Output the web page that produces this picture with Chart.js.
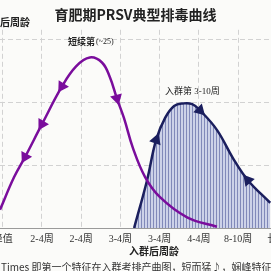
<!DOCTYPE html>
<html>
<head>
<meta charset="utf-8">
<script src="https://cdn.jsdelivr.net/npm/chart.js@4"></script>
<style>
  html, body { margin: 0; padding: 0; background: #fbfbf9; overflow: hidden; }
  #caja { width: 271px; height: 271px; position: relative; }
</style>
</head>
<body>
<div id="caja"><canvas id="grafica"></canvas></div>
<script>
// Etiquetas del eje X (semanas tras la entrada)
const etiquetasX = ['峰值', '2-4周', '2-4周', '3-4周', '3-4周', '4-4周', '8-10周', '长期'];

// Curva morada (excreción corta)
const moradaX = [-0.07, 0.29, 0.57, 1.0, 1.51, 1.87, 2.22, 2.53, 2.73, 2.91, 3.09, 3.32, 3.63, 4.01, 4.70, 5.46];
const moradaY = [0.29, 0.81, 1.13, 1.65, 2.25, 2.57, 2.71, 2.63, 2.40, 2.06, 1.75, 1.27, 0.81, 0.49, 0.17, 0.02];
const flechasMorada = [2, 3, 4, 9];
const giroMorada = [0, 0, 208, 210, 212, 0, 0, 0, 0, 165, 0, 0, 0, 0, 0, 0];

// Curva azul (entrada semanas 3-10)
const azulX = [3.35, 3.68, 3.91, 4.14, 4.37, 4.60, 4.83, 5.03, 5.46, 5.88, 6.25, 6.82];
const azulY = [0.00, 0.76, 1.40, 1.75, 1.94, 1.98, 1.97, 1.87, 1.56, 1.10, 0.76, 0.40];
const flechasAzul = [2, 7, 10];
const giroAzul = [0, 0, 20, 0, 0, 0, 0, 135, 0, 0, -40, 0];

// Patrón de rayas verticales para el relleno
const pc = document.createElement('canvas');
pc.width = 3; pc.height = 4;
const pctx = pc.getContext('2d');
pctx.fillStyle = '#cdd2e8';
pctx.fillRect(0, 0, 3, 4);
pctx.fillStyle = '#8189b9';
pctx.fillRect(0, 0, 1, 4);

const textos = {
  id: 'textos',
  afterDraw(chart) {
    const { ctx, scales: { x } } = chart;
    ctx.save();
    ctx.fillStyle = '#333';
    ctx.textAlign = 'center';
    ctx.textBaseline = 'middle';
    ctx.font = '10px "Liberation Serif", "Noto Sans CJK SC"';
    etiquetasX.forEach((t, i) => ctx.fillText(t, x.getPixelForValue(i), 239));
    ctx.font = 'bold 10px "Noto Sans CJK SC"';
    ctx.fillStyle = '#222';
    ctx.fillText('入群后周龄', 154, 251);
    ctx.textAlign = 'left';
    ctx.fillText('后周龄', 0, 22);
    ctx.font = 'bold 9px "Noto Sans CJK SC"';
    ctx.fillText('短续第', 68, 42);
    ctx.font = '8px "Liberation Serif"';
    ctx.fillText('(~25)', 96, 42);
    ctx.font = '9px "Liberation Serif", "Noto Sans CJK SC"';
    ctx.fillText('入群第 3-10周', 165, 92);
    ctx.font = '10px "Noto Sans CJK SC"';
    ctx.fillStyle = '#333';
    ctx.fillText('Times 即第一个特征在入群考排产曲图，短而猛♪，娴峰特征，双', 1, 267);
    ctx.restore();
  }
};

const ctx = document.getElementById('grafica').getContext('2d');
const myChart = new Chart(ctx, {
  type: 'line',
  data: {
    datasets: [
      {
        label: '短续第',
        data: moradaX.map((v, i) => ({ x: v, y: moradaY[i] })),
        borderColor: '#7a0d9c',
        borderWidth: 2.5,
        tension: 0.4,
        fill: false,
        pointStyle: 'triangle',
        pointRadius: c => flechasMorada.includes(c.dataIndex) ? 4.5 : 0,
        rotation: giroMorada,
        pointBackgroundColor: '#7a0d9c',
        pointBorderColor: '#7a0d9c'
      },
      {
        label: '入群第 3-10周',
        data: azulX.map((v, i) => ({ x: v, y: azulY[i] })),
        borderColor: '#1b1f5e',
        borderWidth: 2.5,
        tension: 0.4,
        fill: 'origin',
        backgroundColor: ctx.createPattern(pc, 'repeat'),
        pointStyle: 'triangle',
        pointRadius: c => flechasAzul.includes(c.dataIndex) ? 4.5 : 0,
        rotation: giroAzul,
        pointBackgroundColor: '#1b1f5e',
        pointBorderColor: '#1b1f5e'
      }
    ]
  },
  options: {
    responsive: true,
    maintainAspectRatio: false,
    animation: false,
    layout: { padding: { left: 0, right: 0, top: 0, bottom: 43 } },
    plugins: {
      legend: { display: false },
      tooltip: { enabled: false },
      title: {
        display: true,
        text: '育肥期PRSV典型排毒曲线',
        color: '#222',
        font: { size: 14, weight: 'bold', family: '"Noto Sans CJK SC"' },
        padding: { top: 6, bottom: 7 }
      }
    },
    scales: {
      x: {
        type: 'linear',
        min: -0.07,
        max: 6.84,
        afterBuildTicks: s => { s.ticks = [0, 1, 2, 3, 4, 5, 6].map(v => ({ value: v })); },
        ticks: { display: false },
        grid: { color: '#d2d2d2', lineWidth: 1, drawTicks: false },
        border: { display: true, color: '#9a9a9a', width: 1, dash: [5, 3] }
      },
      y: {
        min: 0,
        max: 3.15,
        afterBuildTicks: s => { s.ticks = [1, 2, 3].map(v => ({ value: v })); },
        ticks: { display: false },
        grid: { color: '#d2d2d2', lineWidth: 1, drawTicks: false },
        border: { display: false, dash: [5, 3] }
      }
    }
  },
  plugins: [textos]
});
</script>
</body>
</html>
